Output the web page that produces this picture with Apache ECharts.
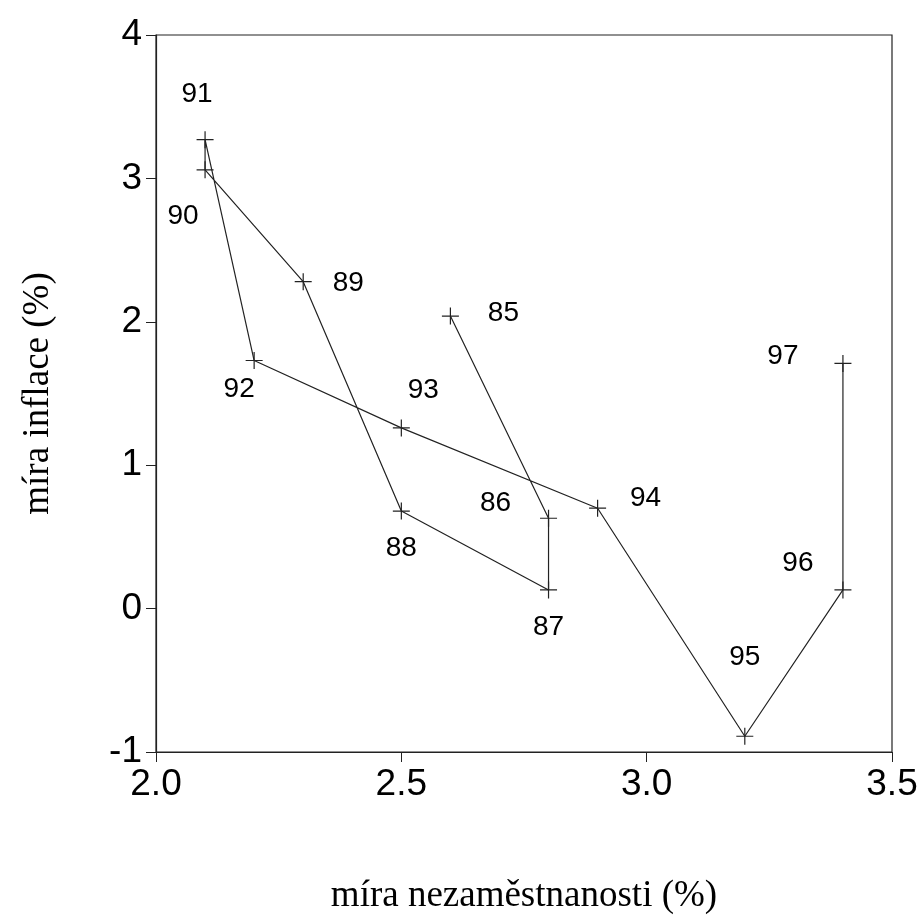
<!DOCTYPE html>
<html><head><meta charset="utf-8">
<script src="https://cdn.jsdelivr.net/npm/echarts@6/dist/echarts.min.js"></script>
<style>html,body{margin:0;padding:0;background:#fff}#c{width:922px;height:924px}</style>
</head><body><div id="c"></div>
<script>
var years = ['85','86','87','88','89','90','91','92','93','94','95','96','97'];
var unemployment = [2.6, 2.8, 2.8, 2.5, 2.3, 2.1, 2.1, 2.2, 2.5, 2.9, 3.2, 3.4, 3.4];
var inflation = [2.04, 0.63, 0.13, 0.68, 2.28, 3.06, 3.27, 1.73, 1.26, 0.70, -0.89, 0.13, 1.71];
var xTicks = [2.0, 2.5, 3.0, 3.5];
var yTicks = [-1, 0, 1, 2, 3, 4];
// label offsets (px) relative to each point
var labelOffsets = [[53,-3],[-53,-15],[0,37],[0,37],[45,2],[-22,46],[-8,-45],[-15,29],[22,-38],[48,-10],[0,-79],[-45,-27],[-60,-7]];

var data = years.map(function(y,i){
  return {value:[unemployment[i], inflation[i]], name:y,
    label:{offset:labelOffsets[i]}};
});
var chart = echarts.init(document.getElementById('c'), null, {renderer:'canvas'});
chart.setOption({
  animation:false,
  backgroundColor:'#fff',
  grid:{left:156, top:35, right:30, bottom:172, show:true, borderColor:'#222', borderWidth:1.2, backgroundColor:'transparent'},
  xAxis:{type:'value', min:xTicks[0], max:xTicks[xTicks.length-1], interval:0.5,
    name:'míra nezaměstnanosti (%)', nameLocation:'middle', nameGap:126,
    nameTextStyle:{fontFamily:'Liberation Serif', fontSize:37, color:'#000'},
    axisLine:{show:true, onZero:false, lineStyle:{color:'#222', width:1.2}},
    axisTick:{show:true, length:10, lineStyle:{color:'#222'}},
    axisLabel:{fontFamily:'Liberation Sans', fontSize:37, color:'#000', margin:14,
      formatter:function(v){return v.toFixed(1);}},
    splitLine:{show:false}},
  yAxis:{type:'value', min:yTicks[0], max:yTicks[yTicks.length-1], interval:1,
    name:'míra inflace (%)', nameLocation:'middle', nameGap:99, nameRotate:90,
    nameTextStyle:{fontFamily:'Liberation Serif', fontSize:37, color:'#000'},
    axisLine:{show:true, onZero:false, lineStyle:{color:'#222', width:1.2}},
    axisTick:{show:true, length:10, lineStyle:{color:'#222'}},
    axisLabel:{fontFamily:'Liberation Sans', fontSize:37, color:'#000', margin:14,
      formatter:function(v){return String(v);}},
    splitLine:{show:false}},
  series:[{
    type:'line', data:data,
    symbol:'path://M0,-10L0,10M-10,0L10,0', symbolSize:17,
    showAllSymbol:true,
    itemStyle:{color:'none', borderColor:'#222', borderWidth:1.2},
    lineStyle:{color:'#222', width:1.2},
    label:{show:true, position:'inside', formatter:'{b}', fontFamily:'Liberation Sans', fontSize:28, color:'#000', align:'center', verticalAlign:'middle'},
    emphasis:{disabled:true}
  }]
});
</script></body></html>
